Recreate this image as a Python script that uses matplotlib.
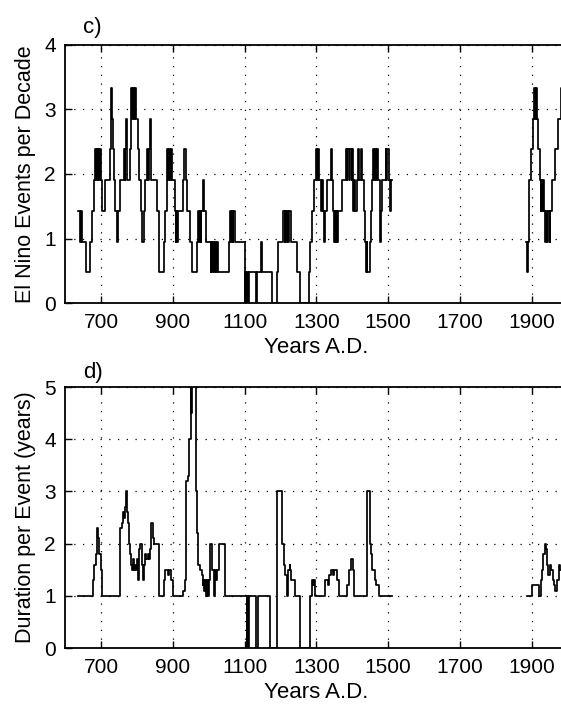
import numpy as np
import matplotlib
matplotlib.use("Agg")
import matplotlib.pyplot as plt

plt.rcParams['font.family'] = ['Liberation Sans', 'DejaVu Sans']

# panel c: El Nino events per decade (step values, start year of each step)
c_years = [634, 640, 644, 646, 657, 668, 674, 679, 682, 685, 687, 690, 692, 695, 697,
           700, 703, 711, 723, 726, 728, 731, 733, 735, 739, 745, 747, 752, 762, 765,
           767, 769, 771, 773, 780, 782, 784, 787, 789, 792, 794, 797, 802, 805, 810,
           813, 818, 822, 827, 830, 832, 836, 838, 840, 855, 860, 862, 876, 879, 882,
           884, 887, 889, 892, 894, 897, 905, 907, 909, 911, 913, 928, 932, 935, 940,
           947, 954, 967, 969, 972, 974, 977, 979, 984, 986, 993, 1005, 1007, 1010, 1012,
           1015, 1017, 1020, 1022, 1025, 1056, 1060, 1062, 1064, 1066, 1068, 1072, 1100, 1102, 1104,
           1106, 1108, 1111, 1132, 1134, 1146, 1149, 1175, 1189, 1194, 1208, 1211, 1213, 1216, 1218,
           1222, 1224, 1228, 1245, 1254, 1278, 1283, 1287, 1294, 1300, 1302, 1304, 1306, 1313, 1316,
           1318, 1322, 1324, 1329, 1340, 1343, 1345, 1349, 1351, 1353, 1356, 1358, 1361, 1372, 1381,
           1384, 1386, 1391, 1393, 1398, 1400, 1401, 1403, 1406, 1408, 1413, 1417, 1420, 1423, 1428,
           1432, 1435, 1437, 1440, 1442, 1449, 1452, 1455, 1458, 1461, 1463, 1467, 1469, 1471, 1476,
           1478, 1480, 1484, 1493, 1495, 1497, 1502, 1505, 1507, 1510,
           1885, 1888, 1890, 1892, 1894, 1899, 1904, 1907, 1910, 1912, 1915, 1918, 1922, 1925, 1927,
           1929, 1932, 1935, 1938, 1940, 1944, 1946, 1950, 1952, 1957, 1966, 1974, 1983, 1990, 1993]
c_vals = [1.43, 0.95, 1.43, 0.95, 0.48, 0.95, 1.43, 1.90, 2.38, 1.90, 2.38, 1.90, 2.38, 1.90, 2.38,
          1.90, 1.43, 1.90, 2.38, 2.86, 3.33, 2.86, 2.38, 1.90, 1.43, 0.95, 1.43, 1.90, 2.38, 1.90,
          2.38, 2.86, 2.38, 1.90, 2.38, 2.86, 3.33, 2.86, 3.33, 2.86, 3.33, 2.86, 2.38, 1.90, 1.43,
          0.95, 1.43, 1.90, 2.38, 1.90, 2.38, 2.86, 2.38, 1.90, 1.43, 0.95, 0.48, 0.95, 1.43, 1.90,
          2.38, 1.90, 2.38, 1.90, 2.38, 1.90, 1.43, 0.95, 1.43, 0.95, 1.43, 1.90, 2.38, 1.90, 1.43,
          0.95, 0.48, 0.95, 1.43, 0.95, 1.43, 0.95, 1.43, 1.90, 1.43, 0.95, 0.48, 0.95, 0.48, 0.95,
          0.48, 0.95, 0.48, 0.95, 0.48, 0.95, 1.43, 0.95, 1.43, 0.95, 1.43, 0.95, 0.00, 0.48, 0.00,
          0.48, 0.00, 0.48, 0.00, 0.48, 0.95, 0.48, 0.00, 0.48, 0.95, 1.43, 0.95, 1.43, 0.95, 1.43,
          0.95, 1.43, 0.95, 0.48, 0.00, 0.48, 0.95, 1.43, 1.90, 2.38, 1.90, 2.38, 1.90, 1.43, 1.90,
          1.43, 0.95, 1.43, 1.90, 2.38, 1.90, 1.43, 0.95, 1.43, 0.95, 1.43, 0.95, 1.43, 1.90, 2.38,
          1.90, 2.38, 1.90, 2.38, 1.90, 2.38, 1.90, 1.43, 1.90, 1.43, 1.90, 2.38, 1.90, 2.38, 1.90,
          1.43, 0.95, 0.48, 0.95, 0.48, 0.95, 1.43, 1.90, 2.38, 1.90, 2.38, 1.90, 2.38, 1.90, 1.43,
          0.95, 1.43, 1.90, 2.38, 1.90, 2.38, 1.90, 1.43, 1.90, np.nan,
          0.95, 0.48, 0.95, 1.43, 1.90, 2.38, 2.86, 3.33, 2.86, 3.33, 2.86, 2.38, 1.90, 1.43, 1.90,
          1.43, 1.90, 1.43, 0.95, 1.43, 0.95, 1.43, 0.95, 1.43, 1.90, 2.38, 2.86, 3.33, 2.86, 2.86]

# panel d: duration per event (years)
d_years = [634, 676, 680, 684, 687, 689, 692, 695, 698, 701, 753, 757, 760, 763, 766,
           769, 771, 774, 776, 780, 783, 786, 788, 790, 793, 796, 800, 803, 806, 808,
           814, 817, 820, 823, 826, 829, 832, 835, 838, 840, 844, 847, 861, 876, 879,
           887, 890, 895, 899, 929, 933, 937, 941, 944, 949, 951, 953, 965, 968, 970,
           975, 980, 983, 985, 987, 989, 991, 995, 998, 1000, 1003, 1010, 1013, 1017, 1021,
           1024, 1029, 1044, 1105, 1107, 1109, 1111, 1131, 1136, 1170, 1191, 1203, 1209, 1213, 1217,
           1222, 1225, 1227, 1229, 1240, 1254, 1281, 1287, 1291, 1293, 1297, 1325, 1332, 1336, 1340,
           1346, 1350, 1356, 1362, 1386, 1391, 1395, 1403, 1406, 1442, 1449, 1453, 1456, 1462, 1466,
           1475, 1510,
           1887, 1901, 1921, 1925, 1929, 1933, 1936, 1941, 1944, 1947, 1950, 1955, 1960, 1963, 1966,
           1972, 1976, 1980, 1984, 1993]
d_vals = [1.0, 1.3, 1.6, 1.8, 2.1, 2.3, 2.1, 1.8, 1.5, 1.0, 2.3, 2.4, 2.6, 2.5, 2.7,
          3.0, 2.6, 2.4, 2.0, 1.8, 1.6, 1.5, 1.7, 1.5, 1.6, 1.5, 1.7, 1.3, 1.9, 2.0,
          1.6, 1.3, 1.6, 1.8, 1.7, 1.8, 1.7, 1.9, 2.3, 2.4, 2.1, 2.0, 1.0, 1.3, 1.5,
          1.4, 1.5, 1.3, 1.0, 1.1, 1.3, 3.2, 3.3, 4.0, 6.0, 4.5, 6.0, 3.0, 2.2, 1.6,
          1.5, 1.4, 1.2, 1.3, 1.1, 1.3, 1.0, 1.3, 1.0, 1.3, 2.0, 1.5, 1.0, 1.5, 1.3,
          1.5, 2.0, 1.0, 0.0, 1.0, 0.0, 1.0, 0.0, 1.0, 0.0, 3.0, 2.0, 1.6, 1.4, 1.0,
          1.5, 1.6, 1.5, 1.3, 1.0, 0.0, 1.0, 1.3, 1.2, 1.3, 1.0, 1.3, 1.2, 1.4, 1.5,
          1.4, 1.5, 1.3, 1.0, 1.2, 1.5, 1.7, 1.5, 1.0, 3.0, 2.0, 1.8, 1.5, 1.3, 1.2,
          1.0, np.nan,
          1.0, 1.2, 1.0, 1.3, 1.5, 1.8, 2.0, 1.9, 1.6, 1.4, 1.6, 1.5, 1.3, 1.2, 1.1,
          1.3, 1.6, 1.5, 1.6, 1.6]

xticks = [700, 900, 1100, 1300, 1500, 1700, 1900]

fig = plt.figure(figsize=(5.61, 7.09), dpi=100)
ax1 = fig.add_axes([0.1166, 0.5726, 0.895, 0.364])
ax2 = fig.add_axes([0.1166, 0.086, 0.895, 0.368])


def style(ax, ylim, yticks, ylabel):
    ax.set_xlim(600, 2000)
    ax.set_ylim(*ylim)
    ax.set_xticks(xticks)
    ax.set_yticks(yticks)
    ax.tick_params(direction='in', length=5, width=1, top=True, right=True,
                   labelsize=15, colors='black', pad=7)
    ax.grid(True, color='black', linestyle=(0, (1, 6)), linewidth=0.9)
    for s in ax.spines.values():
        s.set_linewidth(1.3)
    ax.set_xlabel('Years A.D.', fontsize=16, labelpad=4)
    ax.set_ylabel(ylabel, fontsize=15.5, labelpad=6)


ax1.step(c_years, c_vals, where='post', color='black', linewidth=1.25)
style(ax1, (0, 4), [0, 1, 2, 3, 4], 'El Nino Events per Decade')
ax1.text(0.035, 1.045, 'c)', transform=ax1.transAxes, fontsize=16, va='baseline')

ax2.step(d_years, d_vals, where='post', color='black', linewidth=1.25)
style(ax2, (0, 5), [0, 1, 2, 3, 4, 5], 'Duration per Event (years)')
ax2.text(0.035, 1.035, 'd)', transform=ax2.transAxes, fontsize=16, va='baseline')

fig.savefig('out.png', dpi=100)
